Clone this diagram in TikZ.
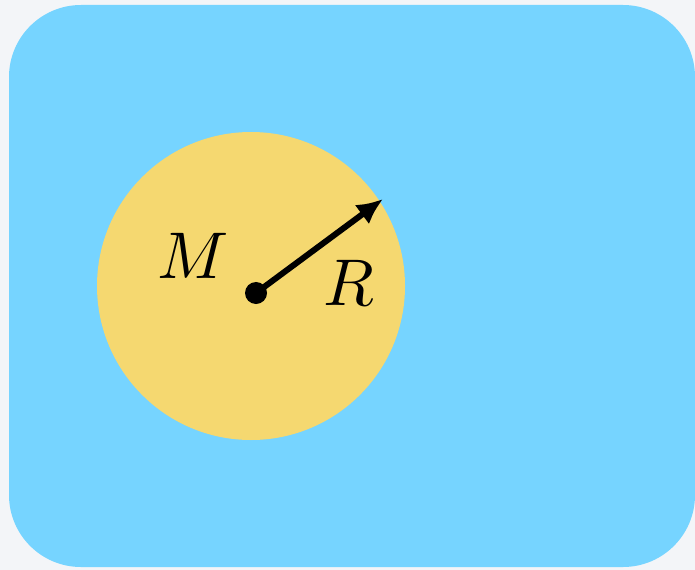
\documentclass[tikz,border=0pt]{standalone}
\usepackage{xcolor}
\usetikzlibrary{arrows.meta}
\definecolor{bgc}{RGB}{243,245,248}
\definecolor{skyc}{RGB}{118,212,255}
\definecolor{sunc}{RGB}{245,216,112}

\begin{document}
\begin{tikzpicture}[x=0.025cm,y=-0.025cm,>=Latex]
\tikzstyle{lbl}=[inner sep=0pt,scale=4.7]
\fill[bgc] (0,0) rectangle (695,570);
\useasboundingbox (0,0) rectangle (695,570);
% blue region
\fill[skyc,rounded corners=72*0.025cm] (9,5) rectangle (695,567);
% mass
\fill[sunc] (251,286) circle (154);
\node[circle,fill=black,inner sep=0pt,minimum size=11*0.05cm] (c) at (256,293) {};
\coordinate (r) at (383,199);
\draw[line width=6*0.025cm,-{Latex[length=26*0.025cm,width=24*0.025cm]}] (c.center) -- (r);
\node[lbl] (m) at (193,256) {$M$};
\node[lbl] (rr) at (349,283) {$R$};
\end{tikzpicture}
\end{document}
